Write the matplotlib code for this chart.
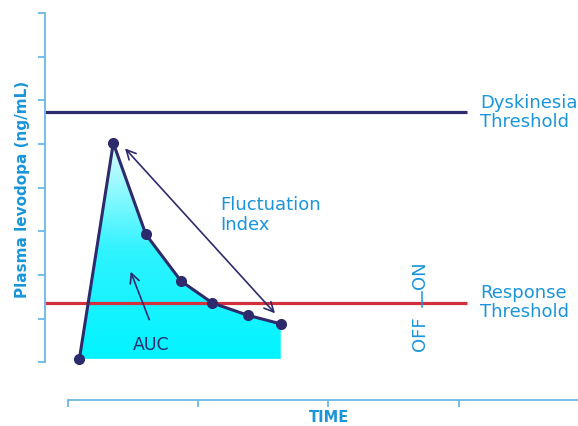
import numpy as np
import matplotlib
matplotlib.use("Agg")
import matplotlib.pyplot as plt
from matplotlib.colors import LinearSegmentedColormap
from matplotlib.patches import Polygon

# ---- data ----
time = [0.09, 0.35, 0.60, 0.87, 1.11, 1.38, 1.635]
conc = [0.08, 5.02, 2.93, 1.86, 1.36, 1.08, 0.88]
dyskinesia_threshold = 5.73
response_threshold = 1.35
y_ticks = list(range(0, 9))
x_ticks = [0, 1, 2, 3]

navy = "#2d2b6c"
red = "#d3303d"
blue_text = "#1a95da"
spine_col = "#6ab7e3"

plt.rcParams['font.family'] = ['DejaVu Sans']

fig = plt.figure(figsize=(5.78, 4.27), dpi=100)
ax = fig.add_axes([45/578, 26/427, 533/578, 387/427])
xmin, xmax = -0.174, 3.916
ymin, ymax = -0.863, 8.0
ax.set_xlim(xmin, xmax)
ax.set_ylim(ymin, ymax)

# gradient fill under curve
poly_pts = list(zip(time, conc)) + [(time[-1], conc[0])]
poly = Polygon(poly_pts, closed=True, facecolor='none', edgecolor='none')
ax.add_patch(poly)
cmap = LinearSegmentedColormap.from_list("cy", ["#00f4ff", "#2ef3ff", "#dcfeff"])
grad = np.linspace(0, 1, 256).reshape(-1, 1)
im = ax.imshow(grad, cmap=cmap, origin='lower', aspect='auto',
               extent=[min(time), max(time), conc[0], max(conc)], zorder=1)
im.set_clip_path(poly)

# thresholds
ax.plot([xmin, 3.064], [dyskinesia_threshold]*2, color=navy, lw=2.3, zorder=2, solid_capstyle='butt')
ax.plot([xmin, 3.064], [response_threshold]*2, color=red, lw=2.3, zorder=2, solid_capstyle='butt')

# curve
ax.plot(time, conc, color=navy, lw=2.2, marker='o', ms=7, zorder=4)

# arrows
ax.annotate("", xy=(0.44, 4.90), xytext=(1.591, 1.122),
            arrowprops=dict(arrowstyle='<->', color=navy, lw=1.2,
                            mutation_scale=17, shrinkA=0, shrinkB=0), zorder=3)
ax.annotate("", xy=(0.483, 2.075), xytext=(0.626, 0.976),
            arrowprops=dict(arrowstyle='->', color=navy, lw=1.2,
                            mutation_scale=17, shrinkA=0, shrinkB=0), zorder=3)

# texts
ax.text(3.164, 5.74, "Dyskinesia\nThreshold", color=blue_text, fontsize=13,
        ha='left', va='center', linespacing=1.1)
ax.text(3.164, 1.39, "Response\nThreshold", color=blue_text, fontsize=13,
        ha='left', va='center', linespacing=1.1)
ax.text(1.169, 3.40, "Fluctuation\nIndex", color=blue_text, fontsize=13,
        ha='left', va='center', linespacing=1.1)
ax.text(0.639, 0.43, "AUC", color=navy, fontsize=12.5, ha='center', va='center')
ax.text(2.70, 2.01, "ON", color=blue_text, fontsize=13, rotation=90,
        ha='center', va='center')
ax.text(2.70, 0.68, "OFF", color=blue_text, fontsize=13, rotation=90,
        ha='center', va='center')
ax.plot([2.72, 2.72], [1.27, 1.60], color=blue_text, lw=1.1, zorder=3)

fig.text(329/578, 1 - 418/427, "TIME", color=blue_text, fontsize=10.5,
         fontweight='bold', ha='center', va='center')
fig.text(23/578, 1 - 189/427, "Plasma levodopa (ng/mL)", color=blue_text,
         fontsize=11, fontweight='bold', rotation=90, ha='center', va='center')

# spines
for s in ['top', 'right']:
    ax.spines[s].set_visible(False)
ax.spines['left'].set_bounds(0, 8)
ax.spines['bottom'].set_bounds(0, xmax)
ax.spines['left'].set_color(spine_col)
ax.spines['bottom'].set_color(spine_col)
ax.spines['left'].set_linewidth(1.3)
ax.spines['bottom'].set_linewidth(1.3)
ax.set_yticks(y_ticks)
ax.set_xticks(x_ticks)
ax.set_yticklabels([])
ax.set_xticklabels([])
ax.tick_params(axis='both', direction='out', color=spine_col, width=1.3, length=5)
ax.patch.set_visible(False)

fig.savefig("out.png", dpi=100)
